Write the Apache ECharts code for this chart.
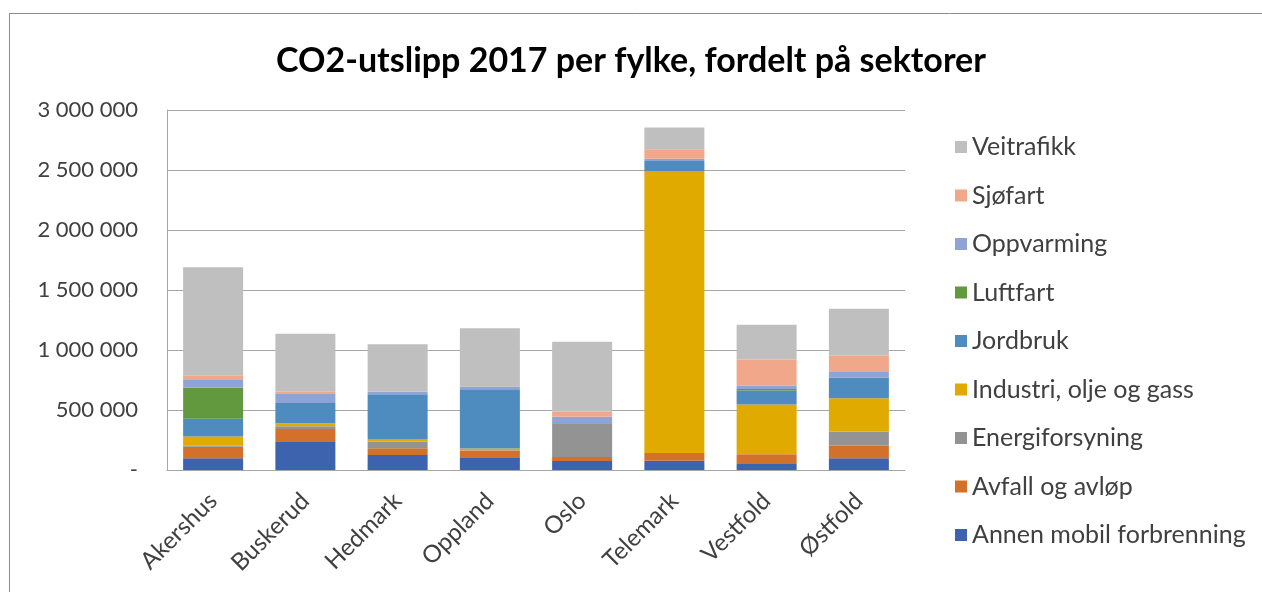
<!DOCTYPE html>
<html>
<head>
<meta charset="utf-8">
<script src="https://cdn.jsdelivr.net/npm/echarts@6/dist/echarts.min.js"></script>
<style>html,body{margin:0;padding:0;background:#fff}#c{width:1262px;height:592px}</style>
</head>
<body>
<div id="c"></div>
<script>
const categories = ['Akershus','Buskerud','Hedmark','Oppland','Oslo','Telemark','Vestfold','Østfold'];
const yTicks = [0, 500000, 1000000, 1500000, 2000000, 2500000, 3000000];
const annen      = [97000, 239000, 125000, 106000, 75000, 78000, 56000, 97000];
const avfall     = [97000, 103000, 56000, 56000, 33000, 64000, 75000, 106000];
const energi     = [8000, 22000, 56000, 3000, 275000, 0, 0, 117000];
const industri   = [78000, 25000, 22000, 14000, 0, 2350000, 414000, 278000];
const jordbruk   = [147000, 169000, 372000, 494000, 0, 83000, 117000, 172000];
const luftfart   = [258000, 0, 0, 0, 0, 0, 14000, 0];
const oppvarming = [72000, 75000, 19000, 22000, 61000, 19000, 28000, 53000];
const sjofart    = [33000, 19000, 3000, 3000, 44000, 78000, 217000, 131000];
const veitrafikk = [900000, 483000, 394000, 483000, 581000, 183000, 289000, 389000];

const seriesDefs = [
  ['Annen mobil forbrenning', annen, '#3D63AE'],
  ['Avfall og avløp', avfall, '#D3702A'],
  ['Energiforsyning', energi, '#939393'],
  ['Industri, olje og gass', industri, '#E0AA00'],
  ['Jordbruk', jordbruk, '#4E8BBE'],
  ['Luftfart', luftfart, '#62993E'],
  ['Oppvarming', oppvarming, '#8FA4D4'],
  ['Sjøfart', sjofart, '#F0A78A'],
  ['Veitrafikk', veitrafikk, '#BFBFBF']
];

function fmt(v){
  if (v === 0) return '-';
  return String(v).replace(/\B(?=(\d{3})+(?!\d))/g, ' ');
}

const chart = echarts.init(document.getElementById('c'), null, {renderer:'canvas'});
chart.setOption({
  animation: false,
  textStyle: {fontFamily: 'Lato'},
  title: {
    text: 'CO2-utslipp 2017 per fylke, fordelt på sektorer',
    left: 'center', top: 39,
    textStyle: {fontFamily: 'Lato', fontSize: 34, fontWeight: 'bold', color: '#000'}
  },
  graphic: [{
    type: 'rect', left: 7, top: 11, silent: true,
    shape: {x: 0, y: 0, width: 1300, height: 700},
    style: {fill: 'none', stroke: '#8c8c8c', lineWidth: 1}
  }],
  legend: {
    orient: 'vertical', left: 950, top: 129,
    icon: 'rect', itemWidth: 12, itemHeight: 12, itemGap: 22.5, itemTextGap: 8,
    data: seriesDefs.map(s => s[0]).reverse(),
    textStyle: {fontFamily: 'Lato', fontSize: 25, color: '#404040', lineHeight: 26}
  },
  grid: {left: 167, right: 357, top: 110, bottom: 122},
  xAxis: {
    type: 'category', data: categories,
    axisLine: {lineStyle: {color: '#A6A6A6'}},
    axisTick: {show: false},
    axisLabel: {rotate: 45, fontSize: 24, color: '#404040', margin: 27, fontFamily: 'Lato'}
  },
  yAxis: {
    type: 'value', min: 0, max: 3000000, interval: 500000,
    axisLine: {show: true, lineStyle: {color: '#A6A6A6'}},
    axisTick: {show: false},
    splitLine: {lineStyle: {color: '#A6A6A6'}},
    axisLabel: {fontSize: 22, color: '#404040', margin: 29, fontFamily: 'Lato', formatter: fmt}
  },
  series: seriesDefs.map(s => ({
    name: s[0], type: 'bar', stack: 'total', data: s[1], barWidth: 60,
    itemStyle: {color: s[2]}
  }))
});
</script>
</body>
</html>
